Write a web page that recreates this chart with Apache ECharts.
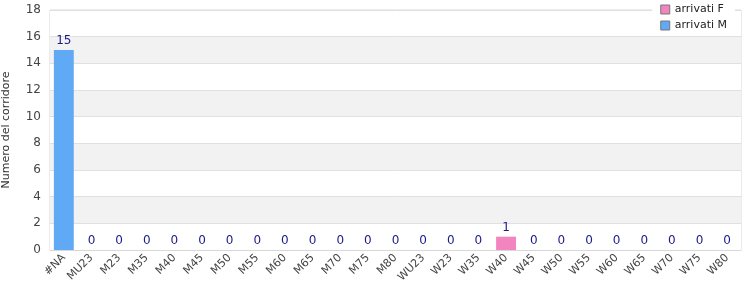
<!DOCTYPE html>
<html><head><meta charset="utf-8">
<script src="https://cdn.jsdelivr.net/npm/echarts@6/dist/echarts.min.js"></script>
<style>html,body{margin:0;padding:0;background:#fff}#c{width:750px;height:300px}</style>
</head><body><div id="c"></div>
<script>
const categories = ["#NA","MU23","M23","M35","M40","M45","M50","M55","M60","M65","M70","M75","M80","WU23","W23","W35","W40","W45","W50","W55","W60","W65","W70","W75","W80"];
const arrivatiF = [0,0,0,0,0,0,0,0,0,0,0,0,0,0,0,0,1,0,0,0,0,0,0,0,0];
const arrivatiM = [15,0,0,0,0,0,0,0,0,0,0,0,0,0,0,0,0,0,0,0,0,0,0,0,0];
const yTicks = {min:0, max:18, interval:2};

const font = "DejaVu Sans";
const chart = echarts.init(document.getElementById('c'), null, {renderer:'canvas'});
chart.setOption({
  animation:false,
  textStyle:{fontFamily:font},
  grid:{left:50, right:9, top:10, bottom:50, show:true, borderColor:'#d8d8d8', borderWidth:1, containLabel:false, outerBoundsMode:'none'},
  legend:{
    orient:'vertical', right:15, top:1, itemWidth:9, itemHeight:9, itemGap:5, icon:'rect',
    backgroundColor:'#fff', padding:[3,8,3,8],
    textStyle:{fontFamily:font, fontSize:11, color:'#222'},
    data:[{name:'arrivati F', itemStyle:{borderColor:'#777', borderWidth:1}},{name:'arrivati M', itemStyle:{borderColor:'#777', borderWidth:1}}]
  },
  xAxis:{
    type:'category', data:categories,
    axisLine:{show:true, lineStyle:{color:'#d8d8d8'}}, axisTick:{show:false},
    axisLabel:{rotate:45, interval:0, fontSize:11, color:'#444', fontFamily:font, margin:6}
  },
  yAxis:{
    type:'value', min:yTicks.min, max:yTicks.max, interval:yTicks.interval,
    name:'Numero del corridore', nameLocation:'middle', nameGap:38, nameRotate:90,
    nameTextStyle:{fontSize:11, color:'#333', fontFamily:font},
    axisLine:{show:false}, axisTick:{show:false},
    axisLabel:{fontSize:12, color:'#444', fontFamily:font, margin:9},
    splitLine:{lineStyle:{color:'#e0e0e0'}},
    splitArea:{show:true, areaStyle:{color:['#ffffff','#f2f2f2']}}
  },
  series:[
    {name:'arrivati F', type:'bar', stack:'tot', data:arrivatiF, barWidth:'72%', itemStyle:{color:'#f285c0'}},
    {name:'arrivati M', type:'bar', stack:'tot', data:arrivatiM, barWidth:'72%', itemStyle:{color:'#60a9f5'},
     label:{show:true, position:'top', distance:3, color:'#1a1a8c', fontSize:12, fontFamily:font,
       formatter:p=>String(arrivatiF[p.dataIndex]+arrivatiM[p.dataIndex])}}
  ]
});
</script></body></html>
